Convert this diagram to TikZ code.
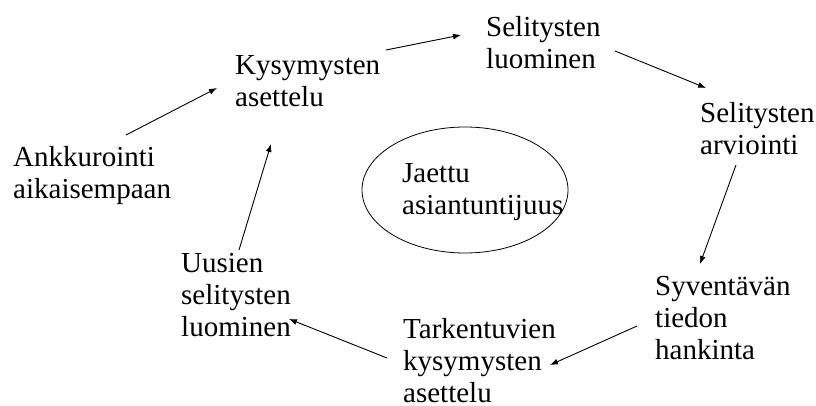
\documentclass[tikz,border=0pt]{standalone}
\usepackage{fontspec}
\setmainfont{Liberation Serif}
\usetikzlibrary{arrows.meta,shapes.geometric}
\begin{document}
\begin{tikzpicture}[x=1pt,y=-1pt,
  lbl/.style={font=\fontsize{29}{32}\selectfont, align=left, inner sep=0pt, anchor=north west},
  arr/.style={line width=0.9pt, -{Latex[length=8pt,width=6pt]}}]
\useasboundingbox (0,0) rectangle (816,406);
% stages of the cycle
\node[lbl] (kys) at (235,55)  {Kysymysten\\asettelu};
\node[lbl] (sel) at (486,16)  {Selitysten\\luominen};
\node[lbl] (arv) at (700,102) {Selitysten\\arviointi};
\node[lbl] (ank) at (13,146)  {Ankkurointi\\aikaisempaan};
\node[lbl] (syv) at (655,276) {Syventävän\\tiedon\\hankinta};
\node[lbl] (tar) at (403,318) {Tarkentuvien\\kysymysten\\asettelu};
\node[lbl] (uus) at (181,253) {Uusien\\selitysten\\luominen};
% shared expertise in the middle
\node[draw, line width=0.8pt, ellipse, minimum width=206pt, minimum height=126pt, inner sep=0pt] (ell) at (465,190) {};
\node[lbl] (jae) at (402,163) {Jaettu\\asiantuntijuus};
% arrows around the cycle
\draw[arr] ([shift={(113,-11)}]ank.north west) -- ([shift={(-18,33)}]kys.north west);
\draw[arr] ([shift={(151,-5)}]kys.north west) -- ([shift={(-25,19)}]sel.north west);
\draw[arr] ([shift={(129,35)}]sel.north west) -- ([shift={(6,-14)}]arv.north west);
\draw[arr] ([shift={(36,63)}]arv.north west) -- ([shift={(45,-12)}]syv.north west);
\draw[arr] ([shift={(-18,50)}]syv.north west) -- ([shift={(147,47)}]tar.north west);
\draw[arr] ([shift={(-16,40)}]tar.north west) -- ([shift={(108,66)}]uus.north west);
\draw[arr] ([shift={(58,-3)}]uus.north west) -- ([shift={(36,89)}]kys.north west);
\end{tikzpicture}
\end{document}
